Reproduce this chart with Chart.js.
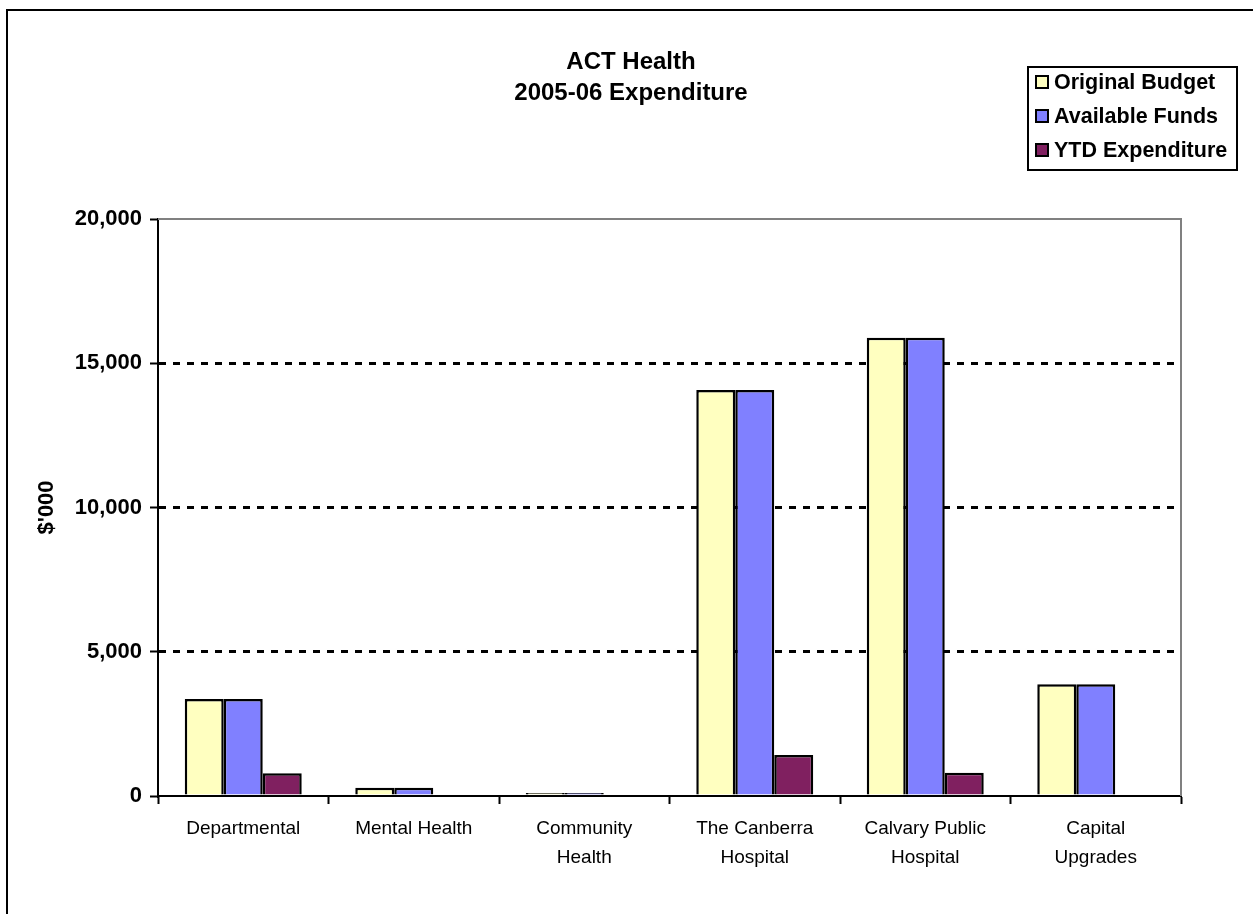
<!DOCTYPE html>
<html>
<head>
<meta charset="utf-8">
<script src="https://cdn.jsdelivr.net/npm/chart.js@4.4.0/dist/chart.umd.min.js"></script>
<style>
  html, body { margin: 0; padding: 0; background: #ffffff; }
  #wrap { width: 1253px; height: 914px; }
</style>
</head>
<body>
<div id="wrap"><canvas id="c" width="1253" height="914"></canvas></div>
<script>
const categories = [
  "Departmental",
  "Mental Health",
  ["Community", "Health"],
  ["The Canberra", "Hospital"],
  ["Calvary Public", "Hospital"],
  ["Capital", "Upgrades"]
];
const originalBudget = [3360, 290, 100, 14070, 15880, 3870];
const availableFunds = [3360, 290, 100, 14070, 15880, 3870];
const ytdExpenditure = [790, 0, 50, 1420, 810, 0];
const yTickValues = [0, 5000, 10000, 15000, 20000];
const titleLines = ["ACT Health", "2005-06 Expenditure"];
const yAxisTitle = "$'000";

const FONT = "'Liberation Sans', Arial, sans-serif";

const framePlugin = {
  id: 'frame',
  beforeDraw(chart) {
    const ctx = chart.ctx;
    ctx.save();
    ctx.fillStyle = '#ffffff';
    ctx.fillRect(0, 0, chart.width, chart.height);
    ctx.strokeStyle = '#000000';
    ctx.lineWidth = 2;
    ctx.beginPath();
    ctx.moveTo(7, chart.height + 2);
    ctx.lineTo(7, 10);
    ctx.lineTo(chart.width + 2, 10);
    ctx.stroke();
    ctx.restore();
  },
  afterDatasetsDraw(chart) {
    const ctx = chart.ctx;
    const a = chart.chartArea;
    ctx.save();
    ctx.strokeStyle = '#808080';
    ctx.lineWidth = 2;
    ctx.beginPath();
    ctx.moveTo(a.left, a.top);
    ctx.lineTo(a.right, a.top);
    ctx.lineTo(a.right, a.bottom);
    ctx.stroke();
    ctx.restore();
  }
};

const titlePlugin = {
  id: 'centerTitle',
  afterDraw(chart) {
    const ctx = chart.ctx;
    ctx.save();
    ctx.fillStyle = '#000000';
    ctx.font = "bold 24px " + FONT;
    ctx.textAlign = 'center';
    ctx.textBaseline = 'middle';
    titleLines.forEach((t, i) => ctx.fillText(t, 631, 62 + i * 31));
    ctx.restore();
  }
};

const legendPlugin = {
  id: 'boxLegend',
  afterDraw(chart) {
    const ctx = chart.ctx;
    const x0 = 1028, y0 = 67, w = 209, h = 103;
    ctx.save();
    ctx.fillStyle = '#ffffff';
    ctx.fillRect(x0, y0, w, h);
    ctx.strokeStyle = '#000000';
    ctx.lineWidth = 2;
    ctx.strokeRect(x0, y0, w, h);
    ctx.font = "bold 21.5px " + FONT;
    ctx.textBaseline = 'middle';
    ctx.textAlign = 'left';
    chart.data.datasets.forEach((ds, i) => {
      const cy = 82 + i * 34;
      ctx.fillStyle = ds.backgroundColor;
      ctx.fillRect(1036, cy - 6, 12, 12);
      ctx.strokeStyle = '#000000';
      ctx.lineWidth = 2;
      ctx.strokeRect(1036, cy - 6, 12, 12);
      ctx.fillStyle = '#000000';
      ctx.fillText(ds.label, 1054, cy + 1);
    });
    ctx.restore();
  }
};

new Chart(document.getElementById('c'), {
  type: 'bar',
  data: {
    labels: categories,
    datasets: [
      { label: 'Original Budget', data: originalBudget, backgroundColor: '#FFFFC0', borderColor: '#000000', borderWidth: 2.5 },
      { label: 'Available Funds', data: availableFunds, backgroundColor: '#8080FF', borderColor: '#000000', borderWidth: 2.5 },
      { label: 'YTD Expenditure', data: ytdExpenditure, backgroundColor: '#802060', borderColor: '#000000', borderWidth: 2.5 }
    ]
  },
  options: {
    responsive: false,
    animation: false,
    layout: { padding: { left: 0, right: 72, top: 219, bottom: 0 } },
    datasets: { bar: { barPercentage: 1.0, categoryPercentage: 0.686 } },
    plugins: {
      legend: { display: false },
      tooltip: { enabled: false },
      title: { display: false }
    },
    scales: {
      x: {
        offset: true,
        grid: { display: true, drawOnChartArea: false, drawTicks: true, tickLength: 8, offset: true, tickColor: '#000000', tickWidth: 2 },
        border: { display: true, color: '#000000', width: 2 },
        ticks: { color: '#000000', font: { family: FONT, size: 19, lineHeight: 1.55 }, padding: 10, maxRotation: 0, autoSkip: false },
        afterFit(scale) { scale.height = 118; }
      },
      y: {
        min: 0,
        max: 20000,
        afterBuildTicks(scale) { scale.ticks = yTickValues.map(v => ({ value: v })); },
        grid: {
          color: ctx => (ctx.tick && (ctx.tick.value === 0 || ctx.tick.value === 20000)) ? 'rgba(0,0,0,0)' : '#000000',
          lineWidth: 3,
          drawTicks: true,
          tickLength: 8,
          tickColor: '#000000',
          tickWidth: 2,
          tickBorderDash: []
        },
        border: { display: true, color: '#000000', width: 2, dash: [7, 7] },
        ticks: {
          color: '#000000',
          font: { family: FONT, size: 22, weight: 'bold' },
          padding: 8,
          callback: v => Number(v).toLocaleString('en-US')
        },
        title: {
          display: true,
          text: yAxisTitle,
          color: '#000000',
          font: { family: FONT, size: 22, weight: 'bold', lineHeight: 1.2 },
          padding: { top: 34, bottom: 0 }
        },
        afterFit(scale) { scale.width = 158; }
      }
    }
  },
  plugins: [framePlugin, titlePlugin, legendPlugin]
});
</script>
</body>
</html>
